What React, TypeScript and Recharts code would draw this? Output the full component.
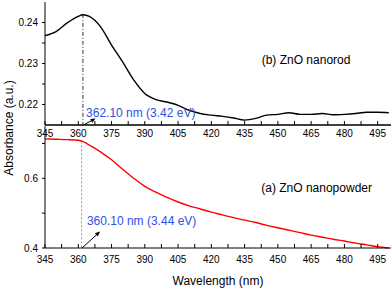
import React from "react";
import { LineChart, Line, XAxis, YAxis, ReferenceLine, ReferenceDot } from "recharts";

const FONT = "'Liberation Sans', Arial, sans-serif";
const BLUE = "#3050e8";

// (b) ZnO nanorod
const wavelengthRod = [345, 350, 355, 360, 362, 365, 370, 375, 380, 385, 390, 395, 400, 405, 410, 415, 420, 425, 430, 435, 440, 445, 450, 455, 460, 465, 470, 475, 480, 485, 490, 495, 500];
const absorbanceRod = [0.2368, 0.2378, 0.2399, 0.2415, 0.2419, 0.2415, 0.239, 0.2345, 0.2304, 0.226, 0.2227, 0.2212, 0.2206, 0.2198, 0.2186, 0.2178, 0.2174, 0.2171, 0.2167, 0.2162, 0.2166, 0.2174, 0.2176, 0.218, 0.2176, 0.2176, 0.2178, 0.2175, 0.2176, 0.2178, 0.2181, 0.2181, 0.218];

// (a) ZnO nanopowder
const wavelengthPowder = [345, 350, 355, 360, 362, 364, 367, 370, 375, 380, 385, 390, 395, 400, 405, 410, 415, 420, 425, 430, 435, 440, 445, 450, 455, 460, 465, 470, 475, 480, 485, 490, 495, 500];
const absorbancePowder = [0.713, 0.712, 0.711, 0.709, 0.706, 0.699, 0.688, 0.676, 0.653, 0.626, 0.6, 0.577, 0.56, 0.545, 0.532, 0.521, 0.512, 0.503, 0.495, 0.487, 0.48, 0.473, 0.465, 0.458, 0.451, 0.444, 0.437, 0.431, 0.425, 0.42, 0.414, 0.409, 0.404, 0.4];

const xTicks = [345, 352.5, 360, 367.5, 375, 382.5, 390, 397.5, 405, 412.5, 420, 427.5, 435, 442.5, 450, 457.5, 465, 472.5, 480, 487.5, 495];
const xLabels = [345, 360, 375, 390, 405, 420, 435, 450, 465, 480, 495];
const rodTicks = [0.22, 0.225, 0.23, 0.235, 0.24];
const rodLabels = [0.22, 0.23, 0.24];
const powderTicks = [0.4, 0.5, 0.6, 0.7];
const powderLabels = [0.4, 0.6];

const rodPeak = { w: 362.1, a: 0.2421 };
const powderEdge = { w: 361.5, a: 0.706 };

const rodData = wavelengthRod.map((w, i) => ({ w, a: absorbanceRod[i] }));
const powderData = wavelengthPowder.map((w, i) => ({ w, a: absorbancePowder[i] }));

const tickStyle = { fill: "#000", fontSize: 10, fontFamily: FONT };
const xFmt = (v: number) => (xLabels.includes(v) ? String(v) : "");

const Arrow = (p: any) => {
  const { x1, y1, x2, y2 } = p;
  const ang = Math.atan2(y2 - y1, x2 - x1);
  const L = 5;
  const W = 2.2;
  const bx = x2 - L * Math.cos(ang);
  const by = y2 - L * Math.sin(ang);
  const pts = `${x2},${y2} ${bx + W * Math.sin(ang)},${by - W * Math.cos(ang)} ${bx - W * Math.sin(ang)},${by + W * Math.cos(ang)}`;
  return (
    <g>
      <line x1={x1} y1={y1} x2={bx} y2={by} stroke="#000" strokeWidth={1} />
      <polygon points={pts} fill="#000" />
    </g>
  );
};

const noteLabel = (value: string, color: string) => ({
  value,
  position: "right" as const,
  offset: 0,
  fill: color,
  fontSize: 12,
  fontFamily: FONT,
  style: { whiteSpace: "pre" as const },
});

export default function App() {
  return (
    <div style={{ position: "absolute", left: 0, top: 0, width: 392, height: 290, background: "#fff" }}>
      <div style={{ position: "absolute", left: 0, top: 0 }}>
        <LineChart width={392} height={290} data={powderData} margin={{ top: 126, right: 1, left: 0, bottom: 0 }}>
          <XAxis
            dataKey="w"
            type="number"
            domain={[345, 501]}
            ticks={xTicks}
            interval={0}
            tickFormatter={xFmt}
            tickSize={-4}
            tickMargin={12}
            height={42}
            axisLine={{ stroke: "#000" }}
            tickLine={{ stroke: "#000" }}
            tick={tickStyle}
            label={{ value: "Wavelength (nm)", position: "insideBottom", offset: 5, fill: "#000", fontSize: 12, fontFamily: FONT }}
          />
          <YAxis
            type="number"
            domain={[0.4, 0.75]}
            ticks={powderTicks}
            interval={0}
            tickFormatter={(v: number) => (powderLabels.includes(v) ? v.toFixed(1) : "")}
            width={45}
            tickSize={3}
            tickMargin={4}
            axisLine={{ stroke: "#000" }}
            tickLine={{ stroke: "#000" }}
            tick={tickStyle}
            label={{
              content: () => (
                <text x={13} y={128} transform="rotate(-90 13 128)" textAnchor="middle" fill="#000" fontSize={12} fontFamily={FONT}>
                  Absorbance (a.u.)
                </text>
              ),
            }}
          />
          <YAxis yAxisId="frame" orientation="right" width={0} tick={false} tickLine={false} axisLine={{ stroke: "#000" }} />
          <ReferenceLine
            segment={[{ x: powderEdge.w, y: powderEdge.a }, { x: powderEdge.w, y: 0.4 }]}
            stroke="#999"
            strokeDasharray="2 2"
            strokeWidth={1}
          />
          <ReferenceLine segment={[{ x: 361.7, y: 0.4 }, { x: 369.8, y: 0.447 }]} shape={Arrow} />
          <ReferenceDot x={363.9} y={0.477} r={0} fill="none" stroke="none" label={noteLabel("360.10 nm (3.44 eV)", BLUE)} />
          <ReferenceDot x={442.5} y={0.574} r={0} fill="none" stroke="none" label={noteLabel("(a) ZnO nanopowder", "#000")} />
          <Line dataKey="a" type="monotone" stroke="#ff0000" strokeWidth={1.4} dot={false} isAnimationActive={false} />
        </LineChart>
      </div>
      <div style={{ position: "absolute", left: 0, top: 0 }}>
        <LineChart width={392} height={145} data={rodData} margin={{ top: 2, right: 1, left: 0, bottom: 0 }}>
          <XAxis
            dataKey="w"
            type="number"
            domain={[345, 501]}
            ticks={xTicks}
            interval={0}
            tickFormatter={xFmt}
            tickSize={-4}
            tickMargin={9}
            height={20}
            axisLine={{ stroke: "#000", strokeWidth: 1.5 }}
            tickLine={{ stroke: "#000" }}
            tick={tickStyle}
          />
          <XAxis xAxisId="frame" orientation="top" height={0} tick={false} tickLine={false} axisLine={{ stroke: "#000" }} />
          <YAxis
            type="number"
            domain={[0.215, 0.245]}
            ticks={rodTicks}
            interval={0}
            tickFormatter={(v: number) => (rodLabels.includes(v) ? v.toFixed(2) : "")}
            width={45}
            tickSize={3}
            tickMargin={4}
            axisLine={{ stroke: "#000" }}
            tickLine={{ stroke: "#000" }}
            tick={tickStyle}
          />
          <YAxis yAxisId="frame" orientation="right" width={0} tick={false} tickLine={false} axisLine={{ stroke: "#000" }} />
          <ReferenceLine
            segment={[{ x: rodPeak.w, y: rodPeak.a }, { x: rodPeak.w, y: 0.215 }]}
            stroke="#000"
            strokeDasharray="4 2 1 2"
            strokeWidth={0.8}
          />
          <ReferenceLine segment={[{ x: 362.4, y: 0.215 }, { x: 367.8, y: 0.2166 }]} shape={Arrow} />
          <ReferenceDot x={363.5} y={0.2179} r={0} fill="none" stroke="none" label={noteLabel("362.10 nm (3.42 eV)", BLUE)} />
          <ReferenceDot x={442.7} y={0.2309} r={0} fill="none" stroke="none" label={noteLabel("(b)  ZnO nanorod", "#000")} />
          <Line dataKey="a" type="monotone" stroke="#000" strokeWidth={1.4} dot={false} isAnimationActive={false} />
        </LineChart>
      </div>
    </div>
  );
}
